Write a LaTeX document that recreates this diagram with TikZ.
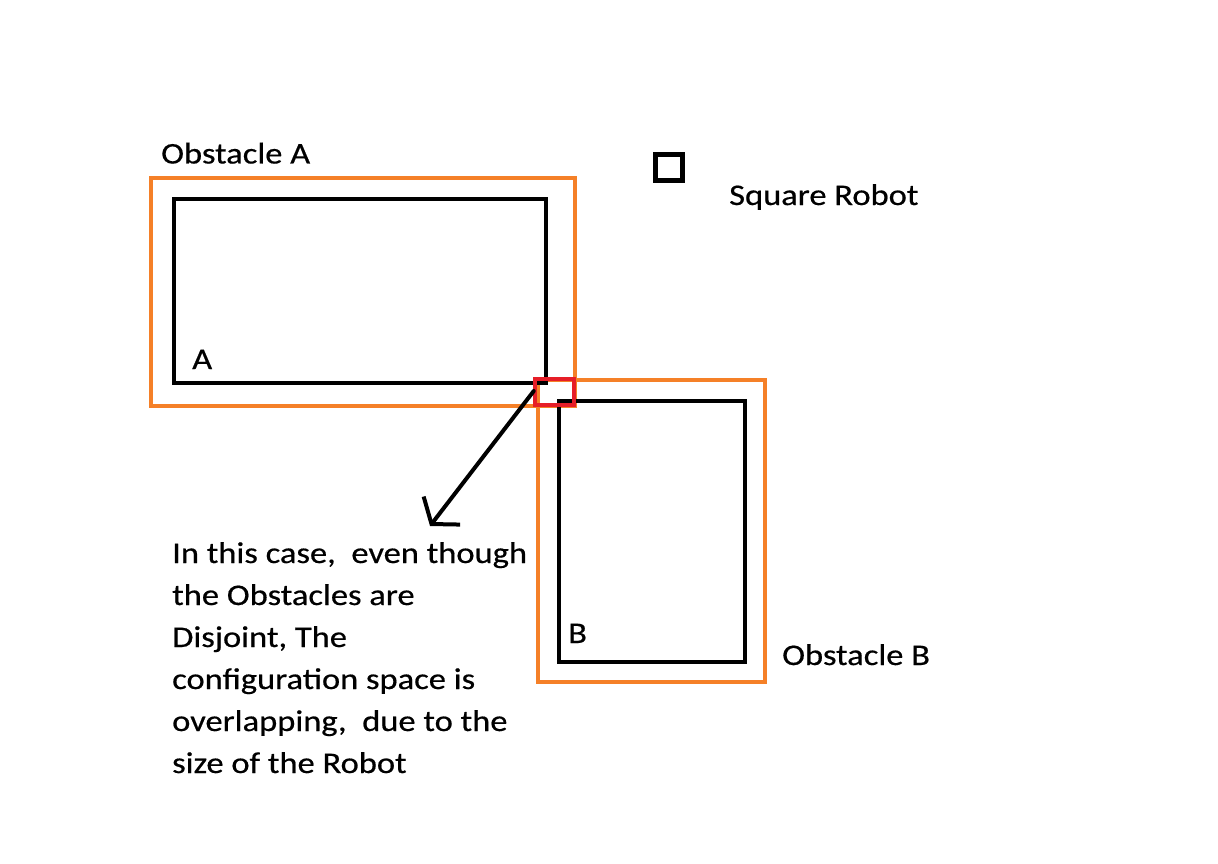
\documentclass[tikz,border=0pt]{standalone}
\usepackage{fontspec}
\setmainfont{Carlito}[FakeStretch=1.15,FakeBold=0.5]
\usetikzlibrary{arrows.meta}
\definecolor{obor}{RGB}{245,128,40}
\definecolor{obred}{RGB}{230,30,40}
\tikzset{
  lbl/.style={anchor=base west, inner sep=0pt, font=\fontsize{30}{42}\selectfont},
  obst/.style={draw=black, line width=4.5pt},
  cspace/.style={draw=obor, line width=4pt},
  hit/.style={draw=obred, line width=4.5pt},
  robot/.style={draw=black, line width=5pt},
  pointer/.style={draw=black, line width=4pt, line cap=round, -{Straight Barb[length=17pt,width=46pt,line width=4pt]}}
}
\begin{document}
\begin{tikzpicture}[x=1pt,y=-1pt]
\useasboundingbox (0,0) rectangle (1218,864);
% configuration-space boxes
\draw[cspace] (151,178) rectangle (575,406);
\draw[cspace] (538,380) rectangle (765,682);
% obstacles
\draw[obst] (174,199) rectangle (546,383);
\draw[obst] (559,401) rectangle (745,662);
% overlap marker
\node[hit, minimum width=39pt, minimum height=26pt, inner sep=0pt] (ov) at (554.5,392) {};
% robot
\node[robot, minimum width=27pt, minimum height=26pt, inner sep=0pt] (rob) at (669,167.5) {};
% labels
\node[lbl] (lobsA) at (161,163.5) {Obstacle A};
\node[lbl] (lrob) at (729,205) {Square Robot};
\node[lbl] (lA) at (192,369) {A};
\node[lbl] (lB) at (568,643) {B};
\node[lbl] (lobsB) at (782,665) {Obstacle B};
\node[lbl] (n1) at (172,563) {In this case,\ \ even though};
\node[lbl] (n2) at (172,605) {the Obstacles are};
\node[lbl] (n3) at (172,647) {Disjoint, The};
\node[lbl] (n4) at (172,689) {configuration space is};
\node[lbl] (n5) at (172,731) {overlapping,\ \ due to the};
\node[lbl] (n6) at (172,773) {size of the Robot};
\coordinate (tip) at (430,526);
\draw[pointer] (ov.west) ++(1,-1) coordinate (st) (st) -- (tip);
\end{tikzpicture}
\end{document}
